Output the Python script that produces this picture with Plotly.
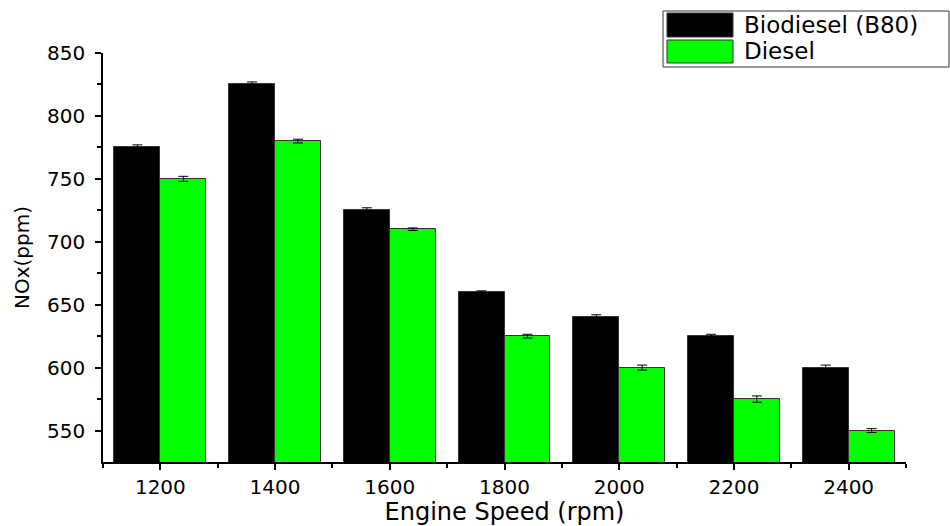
import plotly.graph_objects as go

speeds = [1200, 1400, 1600, 1800, 2000, 2200, 2400]
biodiesel = [775, 825, 725, 660, 640, 625, 600]
diesel = [750, 780, 710, 625, 600, 575, 550]
biodiesel_err = [2, 2, 2, 1, 2, 1.5, 2]
diesel_err = [2, 1.5, 1, 1.5, 2, 2.5, 1.5]
y_ticks = [550, 600, 650, 700, 750, 800, 850]

FONT = "DejaVu Sans"
W, H = 950, 526
L, R, T, B = 103, 906, 53, 462

fig = go.Figure()
fig.add_trace(go.Bar(
    x=speeds, y=biodiesel, name="Biodiesel (B80)", width=80, offset=-80,
    marker=dict(color="#000000", line=dict(color="#333333", width=1)),
    error_y=dict(type="data", array=biodiesel_err, color="#000000", thickness=1, width=5),
    showlegend=False,
))
fig.add_trace(go.Bar(
    x=speeds, y=diesel, name="Diesel", width=80, offset=0,
    marker=dict(color="#00ff00", line=dict(color="#333333", width=1)),
    error_y=dict(type="data", array=diesel_err, color="#000000", thickness=1, width=5),
    showlegend=False,
))

def px(x):
    return (x - L) / (R - L)

def py(y):
    return (B - y) / (B - T)

shapes = [
    dict(type="rect", xref="paper", yref="paper", x0=px(663), x1=px(949), y0=py(67), y1=py(11),
         line=dict(color="#333333", width=1), fillcolor="white"),
    dict(type="rect", xref="paper", yref="paper", x0=px(667), x1=px(733), y0=py(37), y1=py(13),
         line=dict(color="#333333", width=1), fillcolor="#000000"),
    dict(type="rect", xref="paper", yref="paper", x0=px(667), x1=px(733), y0=py(63), y1=py(40),
         line=dict(color="#333333", width=1), fillcolor="#00ff00"),
]
annotations = [
    dict(text="Biodiesel (B80)", xref="paper", yref="paper", x=px(742), y=py(25),
         xanchor="left", yanchor="middle", showarrow=False, font=dict(family=FONT, size=23, color="black")),
    dict(text="Diesel", xref="paper", yref="paper", x=px(742), y=py(51),
         xanchor="left", yanchor="middle", showarrow=False, font=dict(family=FONT, size=23, color="black")),
]

fig.update_layout(
    width=W, height=H,
    margin=dict(l=L, r=W - R, t=T, b=H - B),
    plot_bgcolor="white", paper_bgcolor="white",
    bargap=0, barmode="overlay",
    shapes=shapes, annotations=annotations,
    font=dict(family=FONT, color="black"),
    xaxis=dict(
        range=[1100, 2500], tickmode="array", tickvals=speeds, ticktext=[str(s) for s in speeds],
        showline=True, linecolor="black", linewidth=1.5, ticks="outside", ticklen=6, tickwidth=1.5,
        tickcolor="black", showgrid=False, zeroline=False,
        tickfont=dict(family=FONT, size=20), ticklabelstandoff=0,
        minor=dict(tickmode="array", tickvals=[1100, 1300, 1500, 1700, 1900, 2100, 2300, 2500],
                   ticks="outside", ticklen=4, tickwidth=1.5, tickcolor="black"),
        title=dict(text="Engine Speed (rpm)", font=dict(family=FONT, size=24), standoff=8),
        automargin=False,
    ),
    yaxis=dict(
        range=[525, 850], tickmode="array", tickvals=y_ticks,
        showline=True, linecolor="black", linewidth=1.5, ticks="outside", ticklen=6, tickwidth=1.5,
        tickcolor="black", showgrid=False, zeroline=False,
        tickfont=dict(family=FONT, size=20), ticklabelstandoff=6,
        minor=dict(tickmode="array", tickvals=[575, 625, 675, 725, 775, 825],
                   ticks="outside", ticklen=4, tickwidth=1.5, tickcolor="black"),
        title=dict(text="NOx(ppm)", font=dict(family=FONT, size=20), standoff=12),
        automargin=False,
    ),
)

fig.write_html("out.html")
